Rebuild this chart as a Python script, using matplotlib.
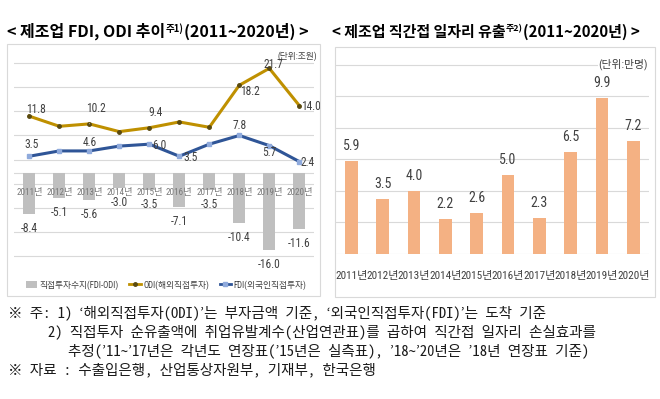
import matplotlib
matplotlib.use("Agg")
import matplotlib.pyplot as plt
from matplotlib.patches import Patch, Rectangle
from matplotlib.lines import Line2D
import numpy as np

plt.rcParams['font.family'] = ['Noto Sans CJK KR', 'DejaVu Sans']
NARROW = ['Roboto Condensed', 'Liberation Sans Narrow', 'Noto Sans CJK KR', 'DejaVu Sans']
MONO = ['Noto Sans Mono CJK KR', 'Noto Sans CJK KR', 'DejaVu Sans']

# data
years = ['2011년', '2012년', '2013년', '2014년', '2015년',
         '2016년', '2017년', '2018년', '2019년', '2020년']
balance = [-8.4, -5.1, -5.6, -3.0, -3.5, -7.1, -3.5, -10.4, -16.0, -11.6]  # FDI-ODI
odi = [11.8, 9.7, 10.2, 8.6, 9.4, 10.6, 9.5, 18.2, 21.7, 14.0]
fdi = [3.5, 4.6, 4.6, 5.6, 6.0, 3.5, 6.0, 7.8, 5.7, 2.4]
jobs = [5.9, 3.5, 4.0, 2.2, 2.6, 5.0, 2.3, 6.5, 9.9, 7.2]

# which points carry a value label, and where (px offsets, +y = down)
odi_lbl = {0: (7, -7), 2: (7, -15), 4: (6, -15), 7: (11, 6), 8: (4, -4), 9: (12, 1)}
fdi_lbl = {0: (2, -12), 2: (1, -8), 4: (10, 1), 5: (11, 1), 7: (0, -10), 8: (0, 7), 9: (8, 1)}

W, H = 660, 399
GOLD = '#BF9000'
BLUE = '#2F5597'
GRID = '#D9D9D9'
TXT = '#404040'


def fx(px):
    return px / W


def fy(py):
    return 1 - py / H


def rect(l, t, r, b):
    return [l / W, 1 - b / H, (r - l) / W, (b - t) / H]


def pt(px):
    return px * 0.72


fig = plt.figure(figsize=(W / 100, H / 100), dpi=100)

# panel frames
for l, t, r, b in [(7, 44, 320, 296), (335, 47, 655, 297)]:
    fig.add_artist(Rectangle((fx(l), fy(b)), (r - l) / W, (b - t) / H,
                             transform=fig.transFigure, fill=False,
                             edgecolor=GRID, lw=0.8))

# ---------------- left chart ----------------
ax1 = fig.add_axes(rect(14.3, 50, 314.3, 262))
x = np.arange(len(years))
ax1.set_xlim(-0.5, 9.5)
ax1.set_ylim(-18.4, 25.5)
ax1.set_yticks(np.arange(-17.2, 25, 5))
ax1.set_xticks([])
ax1.tick_params(left=False, labelleft=False)
ax1.grid(axis='y', color=GRID, lw=0.8)
ax1.set_axisbelow(True)
for s in ax1.spines.values():
    s.set_visible(False)
ax1.axhline(0, color=GRID, lw=0.8, zorder=1)

ax1.bar(x, balance, width=0.4, color='#BFBFBF', zorder=2)
ax1.plot(x, odi, color=GOLD, lw=2.2, marker='o', ms=2.5, mfc='#5a4a10',
         mec='#5a4a10', zorder=3)
ax1.plot(x, fdi, color=BLUE, lw=2.2, marker='s', ms=3.2, mfc='#8FAADC',
         mec='#8FAADC', zorder=3)

for i, v in enumerate(balance):
    ax1.annotate(f'{v:.1f}', (i, v), xytext=(0, -pt(14.5)), textcoords='offset points',
                 ha='center', va='center', fontsize=8.3, color=TXT, family=NARROW)
for i, (dx, dy) in odi_lbl.items():
    kw = {}
    if i == 2:
        kw = dict(arrowprops=dict(arrowstyle='-', color='#A6A6A6', lw=0.6,
                                  shrinkA=4, shrinkB=3))
    ax1.annotate(f'{odi[i]:.1f}', (i, odi[i]), xytext=(pt(dx), -pt(dy)),
                 textcoords='offset points', ha='center', va='center',
                 fontsize=8.3, color=TXT, family=NARROW, **kw)
for i, (dx, dy) in fdi_lbl.items():
    ax1.annotate(f'{fdi[i]:.1f}', (i, fdi[i]), xytext=(pt(dx), -pt(dy)),
                 textcoords='offset points', ha='center', va='center',
                 fontsize=8.3, color=TXT, family=NARROW)
for i, lab in enumerate(years):
    ax1.annotate(lab, (i, 0), xytext=(0, -pt(19)), textcoords='offset points',
                 ha='center', va='center', fontsize=6.6, color='#7a7a7a',
                 family=NARROW, zorder=4)

fig.text(fx(317), fy(56.5), '(단위:조원)', ha='right', va='center',
         fontsize=6.3, color=TXT, family=NARROW)

fig.legend(handles=[
    Patch(facecolor='#BFBFBF', label='직접투자수지(FDI-ODI)'),
    Line2D([], [], color=GOLD, lw=2, marker='o', ms=2.5, mfc='#5a4a10',
           mec='#5a4a10', label='ODI(해외직접투자)'),
    Line2D([], [], color=BLUE, lw=2, marker='s', ms=3, mfc='#8FAADC',
           mec='#8FAADC', label='FDI(외국인직접투자)')],
    loc='center', bbox_to_anchor=(fx(166), fy(285)), ncol=3, frameon=False,
    prop=dict(family=NARROW, size=6.3), handlelength=1.3, handleheight=0.9,
    handletextpad=0.3, columnspacing=1.2, labelcolor=TXT)

# ---------------- right chart ----------------
ax2 = fig.add_axes(rect(335.7, 55, 649, 254))
ax2.set_xlim(-0.5, 9.5)
ax2.set_ylim(0, 12.63)
ax2.set_yticks(np.arange(0, 13, 2))
ax2.tick_params(left=False, labelleft=False, bottom=False)
ax2.grid(axis='y', color=GRID, lw=0.8)
ax2.set_axisbelow(True)
for s in ax2.spines.values():
    s.set_visible(False)
ax2.bar(x, jobs, width=0.4, color='#F4B183', zorder=2)
ax2.set_xticks(x)
ax2.set_xticklabels(years, fontsize=8, color=TXT, family=NARROW)
ax2.tick_params(axis='x', pad=pt(12))
for i, v in enumerate(jobs):
    ax2.annotate(f'{v:.1f}', (i, v), xytext=(0, pt(15)), textcoords='offset points',
                 ha='center', va='center', fontsize=10, color=TXT, family=NARROW)
fig.text(fx(648), fy(64), '(단위:만명)', ha='right', va='center',
         fontsize=7.8, color=TXT, family=NARROW,
         bbox=dict(facecolor='white', edgecolor='none', pad=0.5))

# ---------------- titles ----------------
def title(x0, parts, size):
    main1, sup, main2 = parts
    t1 = fig.text(fx(x0), fy(37), main1, fontsize=size, weight='bold', va='baseline')
    t2 = ax1.annotate(sup, xy=(1, 1), xycoords=t1, xytext=(0.3, 0),
                      textcoords='offset points', ha='left', va='top',
                      fontsize=size * 0.6, weight='bold', annotation_clip=False)
    ax1.annotate(main2, xy=(1, 0), xycoords=(t2, t1), xytext=(0.3, 0),
                 textcoords='offset points', ha='left', va='bottom',
                 fontsize=size, weight='bold', annotation_clip=False)


title(7, ('< 제조업 FDI, ODI 추이', '주1)', '(2011~2020년) >'), 11.5)
title(332, ('< 제조업 직간접 일자리 유출', '주2)', '(2011~2020년) >'), 10.8)

# ---------------- notes ----------------
notes = [
    (8, 313, '※ 주: 1) ‘해외직접투자(ODI)’는 부자금액 기준, ‘외국인직접투자(FDI)’는 도착 기준'),
    (48, 332, '2) 직접투자 순유출액에 취업유발계수(산업연관표)를 곱하여 직간접 일자리 손실효과를'),
    (68, 351, '추정(’11~’17년은 각년도 연장표(’15년은 실측표), ’18~’20년은 ’18년 연장표 기준)'),
    (8, 370, '※ 자료 : 수출입은행, 산업통상자원부, 기재부, 한국은행'),
]
for nx, ny, s in notes:
    fig.text(fx(nx), fy(ny), s, fontsize=10.5, va='center', ha='left',
             color='#1a1a1a', family=MONO)

fig.savefig('out.png', dpi=100)
